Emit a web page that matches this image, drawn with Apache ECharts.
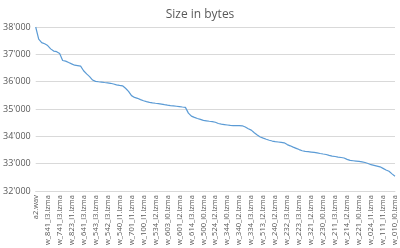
<!DOCTYPE html>
<html><head><meta charset="utf-8">
<script src="https://cdn.jsdelivr.net/npm/echarts@6/dist/echarts.min.js"></script>
<style>html,body{margin:0;padding:0;background:#fff}#c{width:400px;height:248px}</style>
</head><body><div id="c"></div>
<script>
var categoryLabels = ["a2.wav","w_841_l3.lzma","w_741_l3.lzma","w_823_l1.lzma","w_641_l3.lzma","w_543_l3.lzma","w_542_l3.lzma","w_540_l1.lzma","w_701_l1.lzma","w_100_l1.lzma","w_534_l2.lzma","w_603_l0.lzma","w_601_l2.lzma","w_614_l3.lzma","w_500_l0.lzma","w_524_l2.lzma","w_344_l0.lzma","w_340_l2.lzma","w_334_l3.lzma","w_513_l2.lzma","w_240_l2.lzma","w_232_l3.lzma","w_223_l3.lzma","w_321_l2.lzma","w_230_l0.lzma","w_211_l3.lzma","w_214_l2.lzma","w_221_l0.lzma","w_024_l1.lzma","w_111_l1.lzma","w_010_l0.lzma"];
var sizeBytes = [38000,37560,37430,37385,37320,37200,37120,37098,37030,36775,
36753,36700,36650,36603,36587,36570,36400,36285,36185,36060,
36012,35998,35985,35970,35956,35942,35915,35886,35864,35850,
35760,35648,35490,35425,35392,35345,35302,35272,35245,35227,
35212,35198,35182,35160,35141,35128,35117,35103,35089,35074,
35060,34850,34740,34695,34655,34620,34585,34570,34553,34537,
34518,34470,34448,34432,34416,34400,34397,34394,34391,34387,
34345,34282,34230,34135,34052,33978,33935,33895,33860,33830,
33810,33795,33780,33765,33700,33655,33608,33563,33518,33475,
33450,33440,33427,33414,33395,33375,33356,33338,33305,33280,
33265,33245,33228,33210,33160,33122,33110,33098,33085,33068,
33045,33010,32965,32940,32915,32887,32830,32770,32725,32630,32545];
var yTicks = {min: 32000, max: 38000, interval: 1000};
var pointIndex = sizeBytes.map(function(v,i){return i;});

var chart = echarts.init(document.getElementById('c'), null, {renderer:'canvas'});
chart.setOption({
  animation:false,
  title:{text:'Size in bytes', left:'center', top:4,
    textStyle:{fontFamily:'Open Sans', fontSize:12, fontWeight:'normal', color:'#595959'}},
  grid:{left:35, right:5, top:27, bottom:56, containLabel:false},
  xAxis:[{
    type:'category', data:categoryLabels, boundaryGap:false,
    axisLine:{lineStyle:{color:'#d9d9d9'}}, axisTick:{show:false},
    axisLabel:{interval:0, rotate:90, fontSize:7.5, color:'#595959', fontFamily:'Open Sans', margin:4}
  },{
    type:'category', data:pointIndex, boundaryGap:false, show:false
  }],
  yAxis:{
    type:'value', min:yTicks.min, max:yTicks.max, interval:yTicks.interval,
    axisLine:{show:false}, axisTick:{show:false},
    splitLine:{lineStyle:{color:'#d9d9d9'}},
    axisLabel:{fontSize:9, color:'#595959', fontFamily:'Open Sans', margin:5,
      formatter:function(v){return String(v).replace(/\B(?=(\d{3})+(?!\d))/g,"'");}}
  },
  series:[{type:'line', xAxisIndex:1, data:sizeBytes, showSymbol:false,
    lineStyle:{color:'#5b9bd5', width:1.2}}]
});
</script></body></html>
